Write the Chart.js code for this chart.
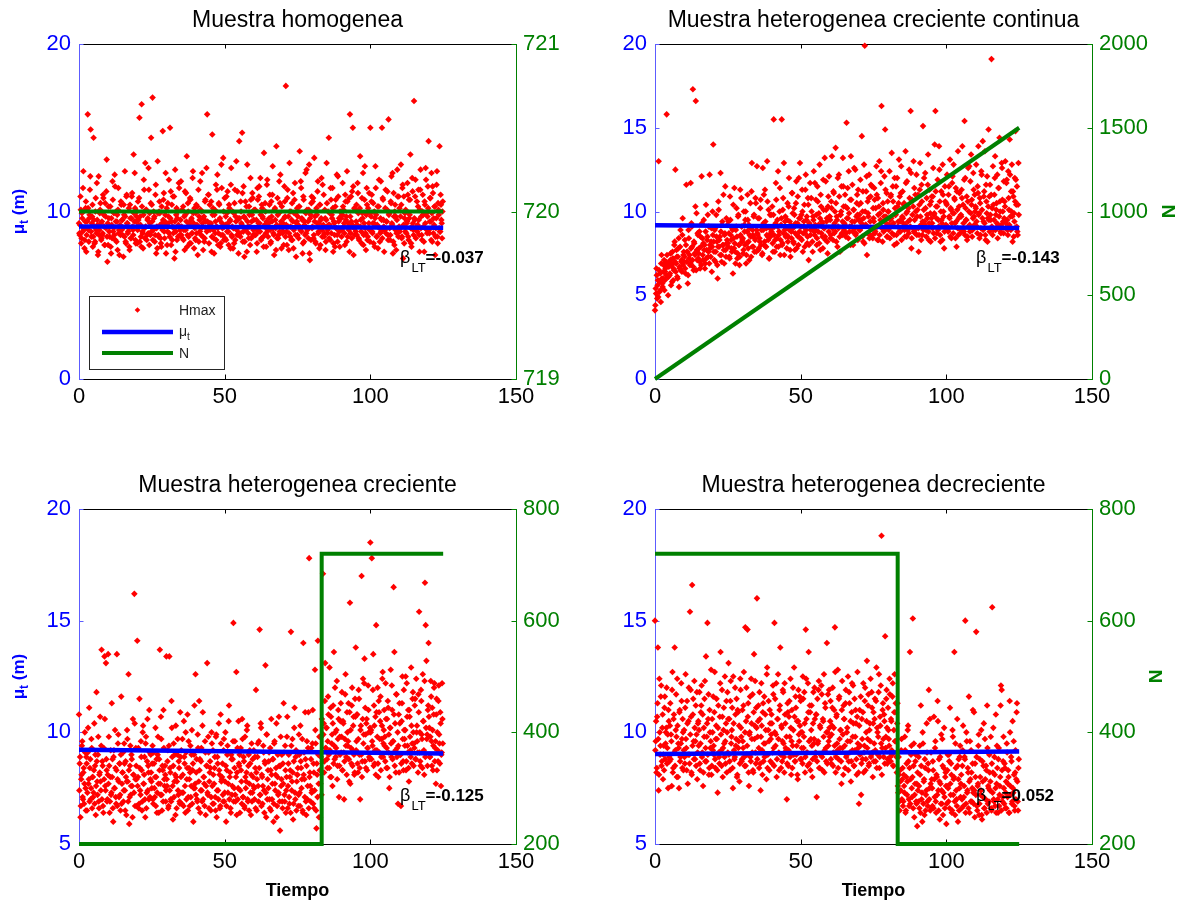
<!DOCTYPE html>
<html>
<head>
<meta charset="utf-8">
<script src="https://cdn.jsdelivr.net/npm/chart.js@4.4.1/dist/chart.umd.min.js"></script>
<style>
  html, body { margin: 0; padding: 0; background: #ffffff; }
  body { width: 1185px; height: 904px; position: relative; overflow: hidden; }
  canvas { position: absolute; left: 0; top: 0; }
</style>
</head>
<body>
<canvas id="panelHomogenea" width="1185" height="904"></canvas>
<canvas id="panelContinua" width="1185" height="904"></canvas>
<canvas id="panelCreciente" width="1185" height="904"></canvas>
<canvas id="panelDecreciente" width="1185" height="904"></canvas>
<script>
// Hmax is sampled every PASO time units from t = 0; the "intermedia" arrays
// hold the samples taken half a step later (t = DESFASE + i * PASO).
const PASO = 0.25;
const DESFASE = 0.125;

// Muestra homogenea: Hmax (m)
const hmaxHomogenea = [
  9.3, 8.6, 10.9, 8.1, 9.9, 8.8, 12.4, 9.0, 8.3, 10.2, 7.6, 9.4, 15.8, 8.9, 9.6, 11.3, 14.9, 8.5, 9.7, 7.9,
  14.4, 9.1, 8.2, 10.8, 8.7, 9.5, 7.4, 12.1, 8.9, 10.1, 9.3, 8.4, 8.6, 11.0, 9.8, 8.0, 10.5, 9.0, 13.1, 7.0,
  8.0, 9.6, 8.5, 10.3, 7.5, 9.2, 11.8, 8.8, 9.9, 12.2, 8.3, 10.0, 9.4, 7.7, 11.4, 8.9, 9.1, 8.6, 10.4, 9.5,
  8.6, 7.3, 9.8, 12.4, 8.2, 10.9, 9.3, 8.7, 9.0, 7.9, 10.4, 8.4, 9.6, 11.1, 8.9, 13.4, 9.4, 10.2, 8.1, 9.7,
  8.1, 10.6, 9.2, 15.6, 9.7, 8.5, 16.4, 8.8, 7.8, 11.9, 9.0, 12.9, 10.1, 8.3, 9.5, 8.7, 11.3, 9.9, 8.6, 14.4,
  10.4, 16.8, 8.9, 9.6, 8.2, 11.0, 7.5, 9.1, 13.0, 8.6, 10.0, 9.9, 8.4, 7.9, 9.3, 14.8, 10.7, 8.8, 9.4, 12.3,
  9.2, 8.0, 10.5, 9.7, 8.7, 15.0, 11.2, 9.4, 8.3, 10.9, 9.0, 7.2, 12.5, 8.8, 10.2, 9.6, 8.5, 11.7, 9.1, 8.9,
  11.8, 9.1, 8.4, 10.3, 8.9, 7.7, 9.8, 11.1, 13.3, 8.6, 10.0, 9.3, 8.1, 10.7, 9.5, 8.7, 12.0, 9.9, 7.8, 9.0,
  8.3, 10.4, 9.2, 7.4, 11.3, 9.7, 8.8, 10.1, 9.0, 12.3, 8.5, 9.6, 8.2, 10.6, 9.4, 12.6, 15.8, 8.9, 11.0, 9.3,
  8.9, 9.3, 7.6, 14.6, 10.2, 8.4, 9.8, 8.7, 11.6, 9.1, 12.2, 8.0, 10.5, 9.5, 7.9, 8.6, 11.4, 9.0, 13.2, 8.3,
  10.8, 9.2, 8.3, 9.9, 11.2, 8.8, 10.4, 9.4, 7.8, 12.6, 8.5, 10.0, 9.0, 8.1, 11.3, 9.7, 13.0, 8.6, 9.5, 7.5,
  14.2, 8.7, 10.6, 9.3, 14.7, 8.2, 11.5, 7.3, 9.6, 8.9, 10.3, 12.8, 9.1, 8.4, 9.8, 8.0, 10.7, 9.4, 11.1, 8.6,
  9.5, 8.6, 10.1, 9.0, 7.6, 11.4, 8.8, 10.9, 9.3, 12.0, 8.3, 10.4, 9.7, 8.5, 13.5, 9.2, 10.0, 7.9, 11.6, 8.9,
  8.9, 9.6, 11.0, 8.1, 10.6, 9.4, 12.7, 8.7, 7.4, 10.2, 9.0, 13.9, 8.4, 9.8, 8.6, 11.8, 10.5, 9.2, 7.8, 8.8,
  9.3, 8.0, 11.5, 9.7, 17.5, 8.8, 10.8, 9.1, 7.7, 12.9, 8.5, 10.0, 9.5, 8.3, 11.1, 8.9, 10.7, 9.9, 7.3, 9.4,
  8.6, 9.2, 10.3, 13.6, 8.9, 11.4, 9.6, 7.5, 10.9, 8.2, 9.4, 12.3, 8.7, 10.1, 9.0, 8.4, 12.8, 7.1, 9.8, 10.5,
  9.0, 10.6, 8.4, 13.2, 9.7, 8.1, 10.2, 9.3, 11.8, 8.8, 7.8, 10.4, 9.5, 12.0, 8.5, 9.1, 11.0, 8.7, 9.6, 8.2,
  12.9, 8.7, 10.0, 14.4, 9.2, 8.3, 10.7, 9.8, 11.4, 7.6, 9.4, 8.6, 10.3, 9.0, 12.2, 8.2, 10.9, 9.6, 7.9, 8.9,
  9.6, 8.9, 11.7, 10.1, 9.3, 8.0, 10.6, 9.7, 12.4, 8.5, 9.1, 10.8, 15.8, 8.7, 9.4, 11.2, 15.0, 7.4, 10.2, 9.0,
  8.8, 10.4, 9.2, 11.1, 8.4, 10.0, 13.3, 9.5, 8.1, 9.9, 12.3, 8.6, 10.7, 9.0, 7.7, 11.4, 8.3, 10.2, 9.3, 8.9,
  15.0, 9.7, 11.0, 8.7, 10.5, 9.3, 7.9, 12.7, 9.8, 8.5, 10.3, 9.1, 11.9, 8.2, 9.6, 8.8, 15.0, 10.8, 9.5, 7.6,
  8.9, 11.3, 9.4, 10.1, 8.6, 15.5, 9.9, 8.3, 10.6, 12.1, 9.2, 7.5, 11.1, 8.0, 10.4, 9.7, 8.7, 12.5, 9.0, 10.9,
  10.2, 9.0, 12.8, 8.4, 11.4, 7.2, 10.9, 9.6, 8.8, 10.0, 9.3, 11.7, 8.5, 10.7, 9.8, 13.4, 8.1, 9.1, 11.2, 8.9,
  16.6, 9.5, 11.9, 8.9, 10.6, 9.2, 11.3, 8.6, 10.1, 12.5, 9.7, 8.3, 11.0, 9.1, 7.6, 10.4, 12.6, 9.9, 8.7, 11.5,
  14.2, 8.7, 10.8, 9.4, 12.3, 8.2, 11.1, 9.6, 10.3, 7.4, 9.0, 11.6, 8.5, 10.5, 9.8, 13.9, 8.8, 10.4, 9.3, 10.0
];
const hmaxHomogeneaIntermedia = [
  8.7, 9.2, 10.1, 8.4, 9.6, 11.4, 8.9, 7.8, 9.4, 10.6, 8.6, 9.0, 10.2, 8.2, 9.8, 12.1, 8.8, 9.3, 10.4, 8.5,
  9.5, 8.1, 10.0, 8.9, 11.7, 9.2, 7.6, 8.6, 9.9, 10.5, 8.3, 9.4, 8.7, 10.8, 9.1, 8.0, 9.7, 11.2, 8.5, 9.3,
  10.3, 8.8, 9.1, 7.9, 9.6, 8.4, 10.7, 9.0, 8.6, 11.5, 9.4, 8.2, 9.8, 10.1, 8.7, 7.4, 9.2, 10.6, 8.9, 9.5,
  9.0, 10.4, 8.5, 9.7, 8.1, 11.0, 9.3, 8.8, 10.2, 7.7, 9.6, 8.4, 10.9, 9.1, 8.6, 9.9, 12.3, 8.3, 9.4, 10.0,
  8.9, 9.5, 10.8, 8.2, 9.2, 7.9, 10.3, 8.7, 9.8, 11.3, 8.4, 9.1, 10.1, 8.6, 9.6, 12.6, 8.0, 9.3, 10.5, 8.8,
  9.4, 8.3, 10.0, 9.7, 8.6, 11.6, 9.0, 7.8, 9.9, 8.5, 10.6, 9.2, 8.1, 10.3, 8.9, 9.5, 11.1, 8.4, 9.8, 7.5,
  10.2, 8.8, 9.3, 11.9, 8.5, 9.6, 8.0, 10.4, 9.1, 8.7, 10.9, 9.4, 7.6, 9.8, 8.3, 10.0, 9.2, 11.4, 8.6, 9.5,
  8.6, 10.1, 9.0, 8.3, 9.7, 11.2, 8.9, 9.4, 7.9, 10.5, 8.5, 9.2, 10.8, 8.1, 9.6, 8.7, 12.4, 9.3, 10.2, 8.4,
  9.9, 8.7, 10.3, 9.1, 8.2, 9.5, 11.8, 8.6, 10.0, 9.3, 7.7, 9.7, 8.4, 10.7, 9.0, 8.8, 9.4, 11.0, 8.1, 10.4,
  9.2, 10.6, 8.5, 9.8, 8.9, 7.5, 10.1, 9.4, 8.3, 11.3, 9.0, 8.7, 10.4, 9.6, 8.1, 12.8, 9.3, 8.6, 10.0, 9.1,
  8.4, 9.7, 10.9, 8.8, 9.3, 8.0, 10.2, 9.5, 11.6, 8.6, 9.1, 7.8, 9.9, 10.5, 8.3, 9.4, 8.9, 11.2, 9.6, 8.7,
  9.6, 8.5, 10.0, 9.2, 11.1, 8.8, 9.7, 8.2, 10.6, 9.0, 7.6, 9.4, 8.7, 10.3, 9.1, 12.0, 8.4, 9.8, 10.8, 8.9,
  10.1, 9.0, 8.6, 9.5, 8.1, 10.7, 9.3, 11.5, 8.8, 9.8, 8.4, 10.2, 9.6, 7.9, 9.1, 10.5, 8.7, 9.4, 11.9, 8.5,
  9.3, 10.4, 8.9, 8.2, 9.7, 11.0, 9.0, 8.6, 10.1, 9.5, 7.7, 9.2, 10.8, 8.4, 9.9, 8.8, 12.2, 9.4, 10.3, 8.7,
  8.8, 9.6, 10.6, 8.5, 9.2, 8.0, 11.3, 9.7, 8.7, 10.0, 9.1, 8.3, 10.5, 9.4, 7.8, 9.9, 11.7, 8.6, 9.3, 10.2,
  9.7, 8.4, 10.3, 9.0, 11.8, 8.8, 9.5, 8.1, 10.7, 9.2, 8.6, 9.9, 12.5, 8.9, 9.4, 10.1, 7.5, 9.6, 8.3, 10.9,
  9.1, 10.8, 8.6, 9.4, 8.2, 10.0, 9.8, 11.2, 8.7, 9.3, 10.4, 8.0, 9.6, 8.9, 11.6, 9.2, 8.5, 10.1, 7.7, 9.5,
  10.5, 8.9, 9.2, 8.4, 9.9, 11.4, 8.7, 9.6, 10.2, 8.1, 9.3, 7.9, 10.7, 9.0, 8.6, 12.1, 9.4, 8.8, 10.0, 9.7,
  8.5, 9.8, 10.3, 9.1, 8.7, 11.0, 9.5, 8.2, 10.6, 9.3, 8.9, 7.6, 9.7, 10.9, 8.4, 9.2, 11.5, 9.0, 8.6, 10.1,
  9.4, 8.6, 11.7, 9.9, 8.3, 10.2, 9.1, 8.8, 10.8, 9.6, 8.0, 9.3, 12.7, 8.7, 9.8, 10.4, 8.5, 9.0, 11.1, 8.2,
  9.9, 10.6, 8.8, 9.3, 8.1, 10.0, 9.6, 11.4, 8.5, 9.2, 7.8, 10.3, 9.0, 8.7, 11.8, 9.5, 8.4, 10.7, 9.1, 8.9,
  10.2, 8.7, 9.4, 11.2, 8.3, 9.8, 9.0, 8.6, 10.5, 9.3, 12.3, 8.2, 9.7, 10.0, 8.9, 7.7, 9.5, 10.9, 8.5, 9.1,
  8.8, 9.7, 10.4, 8.5, 11.6, 9.2, 8.1, 9.9, 10.1, 8.7, 9.4, 11.0, 8.3, 9.6, 10.7, 9.0, 7.9, 12.0, 9.3, 8.6,
  9.6, 10.9, 8.4, 9.1, 8.8, 10.3, 9.5, 7.6, 11.3, 9.0, 8.6, 10.0, 9.8, 8.2, 10.6, 9.3, 11.9, 8.9, 9.7, 10.2,
  8.9, 9.4, 10.8, 8.3, 9.9, 11.5, 8.7, 9.2, 10.3, 8.5, 9.6, 12.4, 8.1, 10.1, 9.0, 8.8, 11.0, 9.5, 8.4, 10.6
];

// Muestra heterogenea creciente continua: Hmax (m)
const hmaxContinua = [
  4.1, 5.4, 6.6, 4.8, 5.9, 13.0, 5.2, 6.3, 4.6, 7.4, 5.7, 6.0, 6.8, 5.3, 6.4, 7.0, 15.8, 6.1, 5.0, 6.7,
  6.2, 7.1, 5.6, 6.8, 7.6, 5.9, 6.5, 8.2, 12.5, 6.9, 7.3, 6.0, 7.8, 5.5, 6.6, 8.9, 7.0, 6.4, 9.6, 7.4,
  7.0, 8.3, 6.3, 11.6, 7.6, 5.7, 8.9, 7.2, 6.8, 11.7, 9.3, 7.9, 17.3, 6.5, 8.1, 7.4, 16.6, 9.9, 7.1, 8.6,
  7.5, 8.8, 6.6, 7.9, 12.1, 8.4, 7.1, 9.5, 8.0, 6.9, 10.4, 7.7, 8.5, 7.3, 9.1, 12.2, 7.8, 8.2, 6.4, 10.0,
  14.0, 7.6, 8.9, 7.0, 9.8, 8.2, 6.0, 10.6, 7.9, 8.5, 12.3, 7.4, 9.2, 8.0, 11.0, 6.9, 8.7, 7.7, 9.6, 8.3,
  8.1, 9.4, 7.3, 10.9, 8.6, 7.8, 9.0, 6.3, 8.4, 11.4, 7.6, 8.9, 10.2, 7.2, 9.7, 8.0, 6.8, 11.3, 8.5, 9.1,
  8.3, 7.5, 10.0, 8.8, 9.5, 6.9, 8.1, 11.0, 7.8, 9.2, 8.6, 10.5, 7.3, 12.9, 8.9, 7.9, 9.8, 8.4, 10.8, 7.6,
  12.7, 8.6, 7.7, 9.6, 8.2, 10.7, 8.9, 7.4, 12.6, 9.3, 8.0, 11.3, 7.9, 9.0, 13.0, 8.5, 10.1, 7.2, 9.8, 8.7,
  8.8, 10.3, 7.6, 15.5, 9.1, 8.3, 11.7, 7.9, 9.5, 12.4, 8.6, 10.0, 7.4, 9.2, 15.5, 8.1, 10.8, 12.9, 8.9, 9.7,
  9.0, 7.8, 10.5, 8.5, 12.0, 9.4, 7.3, 8.8, 11.1, 9.9, 8.2, 10.2, 7.7, 9.3, 11.8, 8.6, 10.9, 8.0, 9.6, 12.9,
  8.4, 9.8, 11.3, 7.6, 9.1, 10.4, 8.7, 12.2, 9.5, 8.1, 10.8, 7.1, 9.3, 11.7, 8.9, 10.0, 8.2, 9.7, 12.4, 8.6,
  9.2, 10.7, 8.0, 11.5, 8.8, 9.9, 12.8, 7.7, 10.3, 9.4, 8.5, 11.9, 9.0, 13.2, 8.3, 10.1, 9.6, 7.5, 10.9, 12.1,
  9.7, 8.4, 10.6, 13.3, 9.1, 11.2, 8.7, 10.0, 13.8, 8.2, 9.5, 12.0, 9.0, 10.9, 7.6, 9.8, 11.5, 8.6, 13.2, 10.3,
  9.3, 11.0, 8.5, 15.3, 10.2, 9.6, 12.4, 8.8, 10.7, 13.3, 9.1, 11.6, 8.0, 10.1, 9.4, 12.5, 8.7, 10.5, 9.8, 11.3,
  10.4, 8.9, 11.9, 9.5, 14.5, 10.0, 8.2, 12.8, 19.9, 9.2, 11.2, 7.4, 10.6, 9.7, 12.2, 8.6, 10.9, 9.0, 11.5, 8.4,
  9.6, 11.4, 8.7, 10.2, 12.7, 9.1, 10.8, 8.3, 13.0, 9.9, 11.7, 16.3, 9.4, 10.5, 8.8, 12.1, 14.9, 9.7, 11.1, 8.5,
  10.0, 8.9, 12.4, 9.5, 11.0, 13.5, 9.2, 10.6, 8.6, 12.0, 9.8, 11.5, 8.1, 10.3, 9.4, 13.1, 10.9, 8.8, 12.7, 9.6,
  11.2, 9.3, 10.5, 8.5, 13.6, 9.9, 11.8, 8.9, 10.2, 12.5, 9.5, 16.0, 7.8, 10.7, 9.0, 13.0, 11.4, 8.7, 10.0, 12.2,
  9.7, 11.0, 7.6, 10.4, 12.9, 9.2, 11.6, 8.6, 15.1, 10.1, 9.4, 12.3, 8.9, 10.8, 9.6, 13.4, 8.3, 11.3, 9.9, 10.6,
  10.9, 9.0, 12.6, 9.8, 14.0, 16.0, 10.3, 8.7, 11.9, 9.5, 13.9, 10.6, 8.2, 11.2, 9.3, 12.8, 10.0, 7.8, 11.5, 9.1,
  10.5, 12.2, 8.9, 11.0, 9.7, 13.1, 10.2, 8.4, 11.7, 9.9, 12.8, 10.8, 9.3, 11.4, 7.9, 10.1, 13.6, 9.6, 11.1, 8.7,
  9.8, 11.3, 13.9, 10.4, 8.8, 15.4, 12.0, 9.5, 10.9, 8.5, 12.6, 10.0, 9.2, 11.8, 13.4, 10.7, 8.9, 12.3, 9.7, 11.0,
  10.3, 12.8, 9.1, 11.5, 13.9, 9.9, 10.8, 8.6, 12.4, 10.1, 14.2, 9.4, 11.2, 13.6, 8.3, 10.6, 12.1, 9.6, 14.9, 10.9,
  11.6, 9.5, 19.1, 10.2, 12.7, 8.9, 11.0, 13.3, 9.8, 10.5, 12.2, 9.2, 11.4, 14.4, 10.0, 8.7, 12.9, 10.7, 9.4, 11.8,
  10.6, 13.0, 9.3, 11.9, 8.9, 12.4, 10.1, 14.3, 9.7, 11.2, 12.8, 8.2, 10.9, 9.9, 12.0, 14.8, 10.4, 11.5, 8.6, 12.9
];
const hmaxContinuaIntermedia = [
  4.4, 5.1, 6.2, 5.6, 4.9, 6.5, 5.8, 5.3, 6.9, 6.0, 5.5, 6.4, 7.1, 5.9, 6.6, 6.2, 7.4, 6.8, 6.1, 7.0,
  6.3, 7.5, 6.9, 5.8, 7.2, 6.6, 8.0, 7.0, 6.4, 7.7, 6.1, 7.3, 8.4, 6.7, 7.9, 6.5, 7.1, 8.6, 6.8, 7.6,
  7.3, 6.6, 8.0, 7.0, 7.6, 6.2, 8.4, 7.4, 6.9, 7.8, 9.1, 7.1, 6.7, 8.2, 7.5, 10.3, 6.5, 7.7, 8.7, 7.2,
  7.8, 7.0, 8.5, 6.8, 9.3, 7.4, 8.1, 7.7, 6.6, 8.8, 7.2, 8.3, 9.8, 7.6, 6.9, 8.0, 7.3, 9.0, 7.9, 8.6,
  8.2, 7.1, 9.0, 7.6, 8.5, 6.8, 7.9, 10.1, 8.3, 7.4, 8.8, 7.0, 9.4, 8.0, 7.7, 8.6, 11.5, 7.3, 8.1, 9.2,
  7.9, 8.7, 7.2, 9.5, 8.3, 7.6, 8.9, 10.4, 7.8, 8.1, 6.9, 9.1, 8.5, 7.5, 9.8, 8.0, 7.3, 8.6, 10.8, 8.2,
  8.4, 7.7, 9.2, 8.0, 10.0, 7.4, 8.8, 9.5, 8.2, 7.1, 9.0, 8.5, 11.2, 7.9, 8.6, 9.7, 7.6, 8.3, 10.5, 8.9,
  8.7, 9.6, 7.8, 8.4, 10.2, 8.0, 9.1, 7.5, 8.9, 11.0, 8.2, 9.4, 7.9, 8.6, 10.6, 8.3, 7.2, 9.0, 8.5, 9.8,
  9.0, 8.1, 9.8, 8.6, 7.6, 9.3, 10.7, 8.4, 9.1, 7.9, 8.8, 11.4, 8.3, 9.6, 8.0, 10.1, 8.7, 7.4, 9.4, 8.5,
  8.6, 9.5, 8.2, 10.3, 8.9, 7.7, 9.2, 8.4, 11.1, 9.0, 8.1, 9.8, 8.7, 10.5, 7.8, 9.3, 8.5, 12.0, 8.8, 9.6,
  9.1, 8.3, 10.0, 8.7, 9.4, 7.9, 11.3, 8.9, 9.7, 8.5, 10.4, 8.0, 9.2, 8.6, 10.8, 9.0, 7.6, 9.5, 8.8, 11.7,
  8.9, 9.8, 8.4, 10.6, 9.2, 8.1, 9.6, 11.0, 8.7, 9.3, 7.8, 10.1, 9.0, 8.5, 11.8, 9.4, 8.2, 10.3, 8.8, 9.7,
  9.5, 8.6, 10.2, 9.0, 8.3, 11.1, 9.3, 8.8, 10.5, 9.7, 7.9, 9.1, 12.2, 8.5, 9.8, 10.0, 8.7, 9.4, 11.5, 8.9,
  9.2, 10.3, 8.7, 9.6, 11.4, 8.4, 9.9, 9.1, 8.0, 10.7, 9.4, 8.8, 10.1, 12.6, 9.0, 8.6, 9.7, 11.0, 8.3, 9.5,
  9.8, 8.9, 10.5, 9.3, 8.5, 11.2, 9.6, 8.1, 10.0, 9.2, 12.1, 8.7, 9.9, 10.8, 8.4, 9.4, 11.6, 9.0, 8.6, 10.2,
  9.4, 10.7, 8.8, 9.1, 11.0, 8.3, 9.8, 10.3, 8.6, 9.5, 12.4, 9.0, 8.2, 10.1, 9.7, 8.9, 11.3, 9.3, 8.5, 10.6,
  10.0, 9.2, 8.4, 10.9, 9.6, 8.7, 11.5, 9.3, 8.0, 10.2, 9.8, 8.6, 12.0, 9.1, 10.5, 8.8, 9.4, 11.1, 8.3, 9.7,
  9.6, 10.4, 8.9, 9.2, 11.7, 8.5, 10.0, 9.4, 8.7, 10.8, 9.1, 12.3, 8.4, 9.8, 10.3, 8.8, 9.5, 11.0, 9.0, 8.6,
  10.1, 9.0, 8.6, 11.3, 9.7, 8.3, 10.6, 9.4, 8.9, 12.0, 9.2, 10.2, 8.5, 9.8, 11.6, 8.8, 9.3, 10.4, 8.2, 9.6,
  9.3, 10.9, 8.7, 9.9, 8.4, 11.2, 9.6, 10.3, 8.9, 9.1, 12.5, 8.6, 10.0, 9.5, 8.3, 11.0, 9.7, 8.8, 10.6, 9.2,
  10.4, 9.1, 8.8, 11.5, 9.6, 8.5, 10.1, 9.3, 12.1, 8.7, 9.9, 10.7, 8.4, 9.4, 11.2, 9.0, 8.6, 10.3, 9.7, 8.9,
  9.7, 10.8, 8.9, 9.3, 11.9, 8.6, 10.2, 9.5, 8.3, 10.6, 9.1, 12.7, 8.8, 9.9, 10.4, 8.5, 9.6, 11.3, 9.2, 10.0,
  10.2, 9.4, 8.7, 11.1, 9.8, 8.4, 10.5, 9.0, 12.2, 9.6, 8.9, 10.9, 9.3, 8.6, 11.6, 9.9, 8.2, 10.3, 9.5, 8.8,
  9.8, 11.0, 9.1, 8.6, 10.4, 9.5, 12.0, 8.9, 10.1, 9.3, 8.4, 11.4, 9.7, 10.6, 8.8, 9.2, 12.6, 10.0, 8.7, 9.6,
  10.3, 9.0, 11.7, 9.5, 8.6, 10.8, 9.2, 12.2, 8.9, 10.0, 9.7, 11.2, 8.5, 9.4, 10.6, 11.9, 9.1, 8.8, 10.4, 9.8
];

// Muestra heterogenea creciente: Hmax (m)
const hmaxCreciente = [
  10.8, 8.6, 6.2, 7.9, 9.4, 7.1, 8.2, 6.8, 10.0, 7.5, 8.9, 6.5, 9.1, 7.7, 11.1, 8.4, 7.0, 9.7, 6.6, 8.0,
  7.3, 10.4, 8.5, 6.3, 11.8, 7.8, 9.0, 6.9, 8.1, 10.7, 7.4, 13.7, 8.7, 6.7, 9.3, 13.4, 7.6, 13.1, 8.3, 7.0,
  13.5, 9.8, 6.4, 8.0, 7.2, 11.3, 8.8, 6.0, 9.2, 7.5, 8.4, 6.8, 13.5, 7.9, 9.9, 7.1, 8.6, 6.5, 11.6, 7.7,
  8.2, 6.9, 9.5, 7.4, 8.7, 6.3, 10.1, 7.8, 12.6, 5.9, 8.5, 7.2, 9.0, 7.6, 10.6, 8.1, 16.2, 6.7, 9.3, 7.9,
  14.1, 8.0, 6.6, 11.5, 7.4, 9.6, 8.3, 6.9, 10.3, 7.7, 8.9, 6.2, 9.8, 7.3, 10.6, 8.5, 7.0, 9.1, 7.9, 8.2,
  7.5, 9.4, 6.8, 8.6, 7.1, 10.2, 8.0, 6.4, 9.0, 7.7, 8.8, 13.7, 7.2, 9.7, 6.5, 8.3, 11.0, 7.9, 8.5, 6.9,
  13.4, 7.6, 9.2, 6.7, 13.4, 8.4, 7.0, 11.4, 8.9, 6.1, 9.5, 7.8, 8.1, 10.3, 6.6, 9.0, 7.4, 8.7, 6.9, 10.9,
  8.0, 6.8, 9.7, 7.3, 10.5, 8.6, 6.4, 9.1, 7.9, 10.8, 7.1, 8.4, 6.7, 9.4, 7.6, 10.1, 8.3, 6.0, 9.0, 7.5,
  12.6, 8.2, 7.0, 9.9, 6.6, 11.4, 8.8, 7.4, 9.3, 6.9, 10.9, 8.0, 7.7, 9.6, 6.3, 8.5, 13.1, 7.2, 9.1, 7.8,
  8.7, 6.5, 10.0, 7.6, 9.2, 6.8, 8.4, 7.1, 9.8, 6.2, 8.9, 7.4, 10.4, 8.1, 6.7, 9.5, 7.9, 8.6, 6.9, 9.7,
  7.3, 10.0, 6.0, 8.3, 9.4, 7.7, 11.2, 8.0, 6.6, 9.0, 7.2, 8.8, 14.9, 7.5, 9.6, 6.9, 12.7, 8.2, 7.0, 10.5,
  8.5, 6.4, 9.3, 7.8, 10.6, 7.1, 8.9, 6.7, 9.8, 7.5, 8.2, 10.3, 6.9, 9.0, 7.7, 8.6, 6.3, 9.5, 7.3, 8.0,
  9.2, 7.0, 8.4, 11.9, 6.5, 8.9, 7.6, 9.6, 14.6, 7.2, 10.2, 8.1, 6.8, 9.4, 7.4, 8.7, 13.0, 6.2, 9.9, 7.9,
  7.5, 9.1, 6.6, 8.3, 10.6, 7.0, 8.8, 6.0, 9.5, 7.7, 8.1, 10.4, 6.7, 9.0, 7.3, 8.5, 5.6, 9.8, 7.9, 6.9,
  8.6, 11.3, 7.2, 9.4, 6.4, 8.0, 10.7, 7.6, 9.0, 6.8, 8.3, 14.5, 7.4, 9.7, 6.1, 8.7, 11.1, 7.0, 9.2, 7.8,
  8.1, 6.7, 9.9, 7.3, 10.3, 8.4, 7.9, 6.5, 14.0, 9.1, 7.1, 8.8, 6.3, 9.6, 7.6, 10.9, 17.8, 8.2, 6.9, 9.3,
  7.4, 11.0, 8.6, 6.6, 12.8, 9.5, 5.7, 8.1, 14.1, 7.7, 9.8, 6.2, 8.9, 7.2, 9.9, 17.1, 10.4, 8.7, 13.1, 9.3,
  10.2, 8.4, 11.6, 9.0, 12.9, 8.0, 10.7, 9.5, 7.6, 11.2, 13.6, 8.8, 10.0, 9.3, 12.3, 8.5, 11.0, 7.1, 9.8, 10.5,
  9.1, 11.8, 8.3, 10.4, 7.0, 9.7, 12.6, 8.9, 10.9, 9.4, 11.3, 7.8, 15.8, 10.1, 8.6, 12.0, 9.2, 10.7, 8.1, 11.5,
  13.8, 9.6, 10.8, 8.2, 11.9, 9.0, 7.0, 10.3, 17.0, 8.7, 12.4, 9.9, 13.3, 11.1, 8.4, 10.6, 9.3, 12.1, 10.0, 8.8,
  18.5, 10.1, 17.8, 9.4, 13.5, 11.2, 8.6, 10.7, 14.8, 9.2, 12.0, 8.0, 10.9, 9.7, 11.6, 8.9, 10.3, 12.7, 9.5, 11.0,
  9.8, 12.2, 8.4, 10.6, 11.4, 9.1, 7.5, 10.2, 12.8, 8.9, 11.0, 9.6, 16.5, 13.6, 10.4, 8.2, 11.7, 9.3, 6.8, 10.8,
  11.3, 9.0, 6.7, 10.5, 12.5, 8.7, 11.9, 9.7, 10.1, 8.3, 12.2, 9.4, 11.0, 7.8, 10.7, 9.2, 12.9, 8.6, 11.5, 10.0,
  9.5, 11.2, 8.8, 12.4, 10.3, 9.1, 11.7, 15.4, 10.0, 8.5, 11.4, 9.7, 12.6, 10.5, 8.1, 16.7, 14.8, 13.2, 9.9, 11.0,
  14.0, 10.2, 8.9, 12.3, 9.6, 11.1, 8.3, 10.8, 12.2, 9.3, 7.7, 11.5, 10.0, 8.7, 12.1, 9.5, 10.9, 7.6, 9.1, 10.6
];
const hmaxCrecienteIntermedia = [
  7.4, 8.9, 6.7, 8.1, 9.6, 7.0, 8.4, 7.7, 9.1, 6.5, 8.6, 7.3, 10.2, 7.9, 6.9, 8.8, 7.5, 9.3, 8.0, 7.1,
  8.3, 6.8, 9.0, 7.6, 8.7, 7.2, 9.8, 6.6, 8.2, 7.8, 9.4, 7.0, 8.5, 6.4, 7.9, 10.6, 7.4, 8.8, 6.9, 8.1,
  7.7, 8.5, 6.9, 9.2, 7.3, 8.0, 6.6, 8.9, 7.5, 10.1, 7.1, 8.3, 6.7, 9.5, 7.8, 8.6, 7.2, 9.0, 6.8, 8.2,
  9.1, 7.4, 8.6, 6.5, 8.0, 7.8, 9.7, 6.9, 8.3, 7.1, 9.4, 7.6, 8.8, 6.2, 8.1, 7.3, 10.4, 7.9, 8.5, 6.7,
  7.6, 9.3, 6.8, 8.4, 7.2, 8.9, 6.5, 10.0, 7.7, 8.1, 7.0, 9.5, 6.6, 8.7, 7.4, 8.2, 11.0, 7.1, 9.0, 7.8,
  8.6, 7.0, 9.1, 7.5, 8.0, 6.7, 8.8, 7.3, 9.8, 6.4, 8.3, 7.7, 10.7, 7.2, 8.5, 6.9, 9.3, 7.6, 8.1, 7.4,
  7.9, 8.7, 6.6, 9.4, 7.4, 8.2, 6.9, 10.2, 7.6, 8.5, 7.1, 9.0, 6.3, 8.0, 7.8, 9.7, 7.2, 8.4, 6.8, 8.9,
  9.2, 7.3, 8.1, 6.7, 8.9, 7.6, 10.0, 7.0, 8.4, 6.5, 9.6, 7.9, 8.2, 7.1, 9.0, 6.8, 8.6, 7.5, 11.2, 7.7,
  7.2, 8.8, 6.9, 9.3, 7.8, 8.3, 6.4, 8.7, 7.4, 10.3, 7.0, 8.0, 6.7, 9.1, 7.6, 8.5, 7.3, 9.8, 6.6, 8.2,
  8.4, 7.1, 9.5, 6.8, 8.1, 7.7, 8.9, 6.5, 9.9, 7.4, 8.6, 7.0, 8.3, 6.6, 10.8, 7.8, 8.0, 7.2, 9.2, 6.9,
  7.8, 8.5, 6.7, 9.0, 7.3, 10.5, 7.0, 8.2, 6.4, 8.8, 7.6, 9.6, 6.9, 8.4, 7.2, 8.0, 6.3, 9.3, 7.5, 8.6,
  9.0, 7.4, 8.3, 6.8, 9.7, 7.1, 8.7, 6.6, 8.0, 7.8, 10.1, 7.0, 8.5, 6.5, 9.2, 7.3, 8.1, 6.9, 8.8, 7.6,
  7.5, 8.9, 6.6, 8.2, 7.9, 9.5, 6.9, 8.4, 7.2, 10.4, 6.7, 8.0, 7.6, 9.1, 6.4, 8.6, 7.3, 9.9, 7.0, 8.3,
  8.7, 7.0, 9.3, 6.5, 8.1, 7.7, 8.8, 6.8, 9.6, 7.4, 8.4, 6.2, 8.0, 7.2, 10.7, 6.9, 8.5, 7.6, 9.0, 6.6,
  7.7, 9.1, 6.9, 8.3, 7.4, 9.8, 6.6, 8.6, 7.1, 8.0, 6.4, 9.4, 7.8, 8.2, 6.8, 10.2, 7.3, 8.9, 6.5, 8.1,
  8.4, 7.2, 9.0, 6.7, 8.7, 7.5, 9.7, 6.4, 8.1, 7.9, 10.9, 6.9, 8.5, 7.0, 9.3, 6.6, 8.0, 7.6, 8.8, 7.3,
  9.5, 6.8, 8.2, 7.4, 10.1, 6.5, 8.6, 7.1, 9.0, 6.2, 8.3, 7.7, 9.8, 10.6, 8.7, 9.9, 8.2, 11.4, 9.3, 10.2,
  8.8, 9.6, 10.8, 8.4, 9.2, 11.1, 8.0, 9.9, 10.4, 8.6, 9.4, 12.0, 8.9, 10.1, 7.9, 9.7, 10.6, 8.5, 9.0, 11.3,
  9.8, 8.3, 10.5, 9.1, 8.7, 11.7, 9.4, 8.1, 10.0, 9.6, 8.8, 10.9, 7.7, 9.3, 11.2, 8.5, 10.3, 9.0, 8.2, 10.7,
  9.2, 10.8, 8.6, 9.7, 11.5, 8.4, 10.1, 9.0, 8.0, 10.6, 9.5, 12.2, 8.7, 9.9, 10.4, 8.3, 9.3, 11.0, 8.9, 10.2,
  10.0, 8.8, 9.6, 11.9, 8.5, 10.3, 9.2, 8.1, 10.9, 9.8, 8.6, 11.4, 9.1, 10.5, 8.3, 9.7, 12.4, 8.9, 10.1, 9.4,
  8.7, 10.6, 9.3, 8.4, 11.1, 9.9, 8.0, 10.2, 9.5, 12.1, 8.8, 9.6, 10.8, 8.5, 9.2, 11.7, 8.9, 10.0, 9.4, 8.2,
  10.4, 9.0, 8.6, 11.3, 9.7, 8.3, 10.1, 9.4, 12.5, 8.7, 10.7, 9.1, 8.4, 11.0, 9.8, 8.9, 10.3, 9.5, 11.8, 8.5,
  9.3, 11.5, 8.8, 10.0, 9.6, 8.2, 10.9, 9.1, 8.7, 11.9, 9.9, 8.4, 10.5, 9.2, 12.3, 8.9, 10.2, 9.7, 8.5, 11.2,
  10.7, 8.9, 9.8, 11.6, 8.5, 10.1, 9.4, 12.0, 8.7, 9.6, 10.8, 8.3, 9.2, 11.4, 9.9, 8.6, 10.4, 9.0, 12.2, 9.5
];

// Muestra heterogenea decreciente: Hmax (m)
const hmaxDecreciente = [
  15.0, 9.6, 8.2, 10.7, 13.8, 7.4, 12.4, 9.0, 11.6, 8.5, 10.2, 7.9, 9.4, 11.1, 8.8, 10.0, 12.0, 9.3, 7.5, 10.5,
  8.7, 11.3, 9.9, 7.6, 12.7, 8.4, 10.8, 13.8, 9.2, 11.7, 8.0, 10.3, 9.5, 7.5, 11.0, 8.9, 12.2, 9.7, 10.6, 8.3,
  10.1, 8.6, 12.6, 9.3, 11.4, 7.7, 10.5, 9.0, 15.4, 11.9, 8.2, 16.6, 10.8, 9.6, 12.3, 8.8, 11.2, 9.9, 7.9, 10.4,
  9.4, 11.8, 8.3, 10.9, 12.1, 9.1, 7.6, 10.2, 11.5, 8.7, 13.4, 9.8, 14.9, 10.6, 8.1, 11.0, 9.3, 12.8, 8.5, 10.0,
  11.6, 9.0, 12.7, 8.4, 10.3, 9.7, 7.3, 11.2, 8.9, 10.7, 13.6, 9.2, 11.9, 8.0, 10.1, 9.5, 12.5, 8.6, 11.4, 10.0,
  9.1, 13.1, 10.6, 8.3, 12.3, 9.8, 11.1, 7.5, 10.4, 8.8, 12.0, 9.4, 11.5, 8.1, 10.9, 9.6, 7.8, 12.4, 10.2, 8.7,
  11.0, 9.3, 12.7, 8.5, 14.7, 10.5, 9.0, 14.6, 11.3, 7.6, 10.0, 8.9, 12.4, 9.7, 11.7, 8.2, 13.5, 10.3, 9.1, 11.1,
  16.0, 9.8, 11.2, 8.4, 10.6, 7.4, 12.2, 9.2, 10.9, 8.7, 11.6, 9.5, 10.1, 7.9, 12.9, 9.0, 11.4, 8.3, 10.4, 9.7,
  10.8, 8.6, 12.1, 9.3, 14.9, 11.5, 9.9, 8.0, 10.6, 12.6, 9.1, 11.0, 13.8, 8.4, 10.2, 9.6, 11.8, 8.9, 12.2, 10.4,
  9.2, 7.0, 11.3, 8.5, 10.7, 9.8, 12.4, 8.1, 11.0, 9.4, 10.1, 12.9, 8.7, 11.6, 9.0, 10.5, 7.9, 11.9, 9.6, 10.3,
  11.4, 8.8, 10.0, 12.5, 9.3, 11.8, 8.2, 14.6, 10.6, 9.1, 12.2, 13.6, 8.6, 10.9, 9.7, 11.2, 8.0, 10.4, 9.5, 12.0,
  8.9, 10.8, 7.1, 11.5, 9.6, 12.3, 8.4, 10.2, 9.0, 11.7, 8.3, 10.5, 12.6, 9.2, 11.1, 8.7, 14.0, 10.0, 9.4, 11.9,
  9.8, 11.4, 8.6, 10.3, 12.0, 9.1, 11.0, 14.7, 8.2, 10.7, 9.5, 12.8, 8.8, 11.6, 9.3, 10.1, 7.7, 12.3, 9.9, 11.2,
  10.6, 8.4, 11.9, 9.0, 10.2, 12.5, 8.7, 11.3, 9.6, 7.8, 10.9, 9.2, 12.1, 8.5, 11.5, 9.8, 10.4, 8.1, 12.7, 9.3,
  6.8, 11.0, 9.4, 7.2, 10.6, 8.8, 12.2, 9.1, 11.4, 8.3, 10.0, 13.2, 9.7, 11.7, 8.6, 10.4, 12.4, 9.0, 11.1, 8.0,
  10.9, 9.5, 11.5, 8.7, 12.9, 10.2, 9.0, 11.8, 8.4, 10.7, 12.1, 18.8, 9.3, 11.3, 8.9, 10.5, 14.3, 9.8, 11.9, 8.6,
  11.1, 9.7, 12.4, 8.9, 10.6, 9.2, 11.6, 8.5, 10.1, 12.6, 9.6, 10.9, 8.2, 11.3, 7.3, 8.1, 6.5, 7.8, 9.2, 7.0,
  8.4, 6.9, 7.6, 9.8, 6.4, 8.0, 7.2, 10.1, 8.7, 6.7, 13.6, 7.9, 9.4, 7.1, 15.1, 8.5, 6.2, 7.7, 9.0, 6.8,
  5.8, 7.4, 8.9, 6.6, 8.1, 11.2, 7.0, 6.0, 9.5, 7.8, 6.3, 8.4, 7.2, 10.4, 6.9, 8.6, 11.9, 7.5, 6.5, 9.1,
  7.9, 6.7, 8.3, 10.7, 7.1, 9.6, 6.4, 8.0, 11.4, 7.4, 8.8, 6.1, 7.7, 9.9, 6.8, 8.5, 7.3, 10.2, 6.6, 8.2,
  5.9, 7.6, 9.0, 6.9, 8.7, 11.1, 7.2, 8.1, 6.5, 9.8, 7.9, 13.6, 6.3, 8.4, 7.0, 10.6, 6.0, 8.8, 7.5, 9.4,
  7.7, 6.6, 8.5, 10.3, 7.1, 8.9, 15.0, 6.8, 9.6, 7.4, 8.2, 11.6, 6.4, 7.9, 9.2, 6.9, 8.6, 7.3, 10.9, 6.2,
  8.0, 14.5, 6.7, 7.6, 9.4, 6.3, 8.8, 7.2, 10.1, 6.1, 7.8, 8.5, 6.6, 9.7, 7.0, 8.3, 11.2, 6.8, 7.5, 9.0,
  7.4, 9.8, 6.5, 15.6, 8.2, 7.0, 8.9, 6.7, 10.8, 7.7, 8.4, 6.4, 9.3, 7.2, 8.0, 12.1, 11.9, 6.9, 8.7, 7.5,
  8.6, 6.6, 7.8, 9.5, 7.1, 8.3, 6.4, 11.4, 7.6, 8.9, 6.8, 10.5, 7.3, 8.1, 6.5, 9.2, 7.9, 11.3, 6.9, 8.4
];
const hmaxDecrecienteIntermedia = [
  9.2, 10.5, 8.4, 11.3, 9.7, 8.1, 10.0, 9.4, 12.1, 8.7, 10.8, 9.0, 8.3, 11.6, 9.5, 10.2, 8.6, 9.9, 11.0, 8.9,
  10.3, 8.8, 9.6, 11.9, 8.2, 10.6, 9.1, 8.5, 10.1, 9.8, 12.4, 8.0, 9.3, 10.9, 8.7, 9.5, 11.4, 8.4, 10.0, 9.2,
  8.9, 11.1, 9.7, 8.3, 10.4, 9.0, 12.0, 8.6, 9.9, 10.7, 8.1, 9.4, 11.5, 8.8, 10.2, 9.6, 8.5, 11.8, 9.1, 10.5,
  10.1, 8.6, 9.5, 11.2, 8.9, 10.8, 8.2, 9.8, 12.3, 9.3, 8.7, 10.4, 9.0, 11.7, 8.4, 10.0, 9.6, 8.1, 10.6, 9.2,
  9.4, 10.9, 8.8, 9.7, 11.5, 8.3, 10.2, 9.1, 8.6, 12.2, 9.9, 8.5, 10.7, 9.3, 11.1, 8.9, 9.6, 10.4, 8.2, 11.8,
  10.6, 9.0, 8.7, 11.4, 9.5, 10.1, 8.4, 12.5, 9.2, 8.9, 10.8, 9.7, 8.0, 11.0, 9.3, 10.3, 8.6, 11.9, 9.8, 8.8,
  9.6, 11.2, 8.9, 10.0, 8.5, 12.0, 9.4, 10.7, 8.2, 9.9, 11.6, 8.7, 10.4, 9.1, 8.3, 10.9, 9.7, 12.3, 8.6, 10.2,
  8.8, 10.5, 9.3, 11.8, 8.6, 9.8, 10.3, 8.1, 11.3, 9.5, 8.9, 10.8, 9.0, 12.6, 8.4, 10.1, 9.6, 11.0, 8.7, 9.9,
  10.4, 9.1, 11.7, 8.5, 10.0, 9.4, 12.2, 8.8, 10.6, 9.7, 8.3, 11.2, 9.0, 10.3, 8.7, 11.9, 9.5, 8.2, 10.8, 9.3,
  9.8, 8.6, 10.9, 9.2, 11.4, 8.9, 10.2, 9.6, 8.4, 12.0, 9.0, 10.7, 8.7, 11.1, 9.4, 8.1, 10.5, 9.9, 11.6, 8.8,
  10.0, 9.3, 8.6, 11.5, 9.8, 10.4, 8.9, 12.4, 9.1, 8.5, 10.9, 9.6, 11.2, 8.3, 10.1, 9.4, 8.8, 11.8, 9.7, 10.6,
  9.1, 10.8, 8.7, 9.5, 11.9, 8.4, 10.3, 9.0, 12.1, 8.9, 10.6, 9.8, 8.2, 11.3, 9.3, 10.0, 8.6, 11.7, 9.6, 10.2,
  10.5, 8.8, 9.9, 11.1, 8.5, 10.2, 9.4, 12.7, 8.9, 10.8, 9.2, 8.4, 11.5, 9.7, 10.1, 8.7, 11.0, 9.3, 8.1, 10.6,
  9.4, 11.3, 8.9, 10.0, 9.6, 8.3, 11.8, 9.1, 10.5, 8.7, 12.2, 9.8, 10.4, 8.5, 9.2, 11.0, 8.8, 10.7, 9.5, 8.2,
  10.3, 9.0, 11.6, 8.6, 9.7, 10.9, 8.2, 9.4, 12.0, 8.8, 10.5, 9.3, 11.2, 8.5, 10.1, 9.6, 8.9, 11.8, 9.1, 10.4,
  8.7, 10.6, 9.2, 11.4, 8.4, 10.0, 9.8, 12.6, 8.9, 10.3, 9.5, 8.1, 11.0, 9.7, 10.8, 8.6, 9.3, 11.5, 10.2, 8.8,
  10.1, 9.4, 11.7, 8.7, 10.5, 9.0, 12.2, 8.5, 10.9, 9.6, 11.3, 8.9, 10.4, 7.6, 8.9, 6.9, 8.3, 7.4, 9.7, 7.9,
  6.7, 8.1, 7.3, 9.2, 6.5, 8.6, 7.8, 10.3, 7.0, 8.4, 6.8, 9.0, 7.5, 8.0, 6.6, 9.5, 7.2, 8.7, 6.9, 7.7,
  8.2, 6.9, 7.6, 9.4, 6.4, 8.5, 7.3, 10.0, 6.8, 7.9, 8.8, 6.5, 7.4, 9.1, 6.7, 8.3, 7.0, 10.6, 7.7, 6.6,
  7.5, 8.7, 6.6, 7.9, 9.3, 6.9, 8.1, 7.2, 10.5, 6.5, 7.8, 8.9, 6.8, 7.4, 9.7, 6.3, 8.4, 7.1, 8.0, 7.6,
  6.8, 8.3, 7.5, 9.0, 6.6, 7.7, 8.6, 6.4, 10.1, 7.2, 8.0, 6.9, 9.5, 7.4, 6.7, 8.5, 7.9, 6.5, 8.9, 7.1,
  8.1, 7.0, 9.2, 6.7, 7.6, 8.8, 6.4, 10.0, 7.3, 8.4, 6.6, 7.8, 9.6, 6.9, 8.2, 7.5, 11.0, 6.8, 7.4, 8.6,
  7.2, 8.9, 6.5, 7.7, 9.9, 6.8, 8.0, 7.4, 6.3, 8.7, 7.1, 10.4, 6.6, 7.9, 8.5, 6.4, 9.3, 7.6, 6.9, 8.2,
  7.8, 6.6, 8.6, 7.3, 10.2, 6.9, 8.1, 7.5, 6.4, 9.4, 7.0, 8.8, 6.7, 7.6, 11.2, 6.5, 8.3, 7.1, 9.8, 6.8,
  8.4, 7.3, 6.6, 9.1, 7.7, 8.0, 6.4, 10.0, 7.2, 8.7, 6.9, 7.5, 9.6, 6.7, 8.2, 7.0, 10.9, 7.8, 6.5, 8.8
];

// Fitted location parameter mu_t (m): start and end of each trend line
const muTiempo = [0, 125];
const muHomogenea = [9.10, 9.03];
const muContinua = [9.18, 9.02];
const muCreciente = [9.22, 9.05];
const muDecreciente = [9.03, 9.14];

// Number of events N over time
const nTiempoHomogenea = [0, 125];
const nHomogenea = [720, 720];
const nTiempoContinua = [0, 125];
const nContinua = [0, 1500];
const nTiempoCreciente = [0, 83.3, 83.3, 125];
const nCreciente = [200, 200, 720, 720];
const nTiempoDecreciente = [0, 83.3, 83.3, 125];
const nDecreciente = [720, 720, 200, 200];

// Long-term trend coefficient shown in each panel
const betaLT = [-0.037, -0.143, -0.125, 0.052];

const FUENTE = "'Liberation Sans', Arial, Helvetica, sans-serif";
const ANCHO = 1185, ALTO = 904;
const AZUL = '#0000ff', VERDE = '#008000', ROJO = '#ff0000';

function puntos(ts, vs) {
  return ts.map((t, i) => ({ x: t, y: vs[i] }));
}

function muestras(principal, intermedia) {
  return principal.map((v, i) => ({ x: i * PASO, y: v }))
    .concat(intermedia.map((v, i) => ({ x: DESFASE + i * PASO, y: v })));
}

// Frame, inward ticks, titles, axis labels, annotation and legend
const decoracion = {
  id: 'decoracion',
  beforeDatasetsDraw(chart) {
    const { ctx, chartArea: a, scales } = chart;
    ctx.save();
    ctx.lineWidth = 1;
    ctx.strokeStyle = '#000';
    ctx.beginPath();
    ctx.moveTo(a.left, a.top + 0.5); ctx.lineTo(a.right, a.top + 0.5);
    ctx.moveTo(a.left, a.bottom + 0.5); ctx.lineTo(a.right, a.bottom + 0.5);
    ctx.stroke();
    const TL = 4.5;
    ctx.beginPath();
    scales.x.ticks.forEach(t => {
      const px = Math.round(scales.x.getPixelForValue(t.value)) + 0.5;
      ctx.moveTo(px, a.bottom); ctx.lineTo(px, a.bottom - TL);
      ctx.moveTo(px, a.top); ctx.lineTo(px, a.top + TL);
    });
    ctx.stroke();
    ctx.strokeStyle = '#5c5cff';
    ctx.beginPath();
    ctx.moveTo(a.left + 0.5, a.top); ctx.lineTo(a.left + 0.5, a.bottom + 1);
    scales.y.ticks.forEach(t => {
      const py = Math.round(scales.y.getPixelForValue(t.value)) + 0.5;
      ctx.moveTo(a.left, py); ctx.lineTo(a.left + TL, py);
    });
    ctx.stroke();
    ctx.strokeStyle = VERDE;
    ctx.beginPath();
    ctx.moveTo(a.right + 0.5, a.top); ctx.lineTo(a.right + 0.5, a.bottom + 1);
    scales.y2.ticks.forEach(t => {
      const py = Math.round(scales.y2.getPixelForValue(t.value)) + 0.5;
      ctx.moveTo(a.right, py); ctx.lineTo(a.right - TL, py);
    });
    ctx.stroke();
    ctx.restore();
  },
  afterDraw(chart, args, o) {
    const { ctx, chartArea: a, scales } = chart;
    ctx.save();
    ctx.fillStyle = '#000';
    ctx.font = `23px ${FUENTE}`;
    ctx.textAlign = 'center';
    ctx.textBaseline = 'alphabetic';
    ctx.fillText(o.titulo, (a.left + a.right) / 2, a.top - 17.5);

    if (o.etiquetaMu) {
      ctx.save();
      ctx.translate(19, (a.top + a.bottom) / 2);
      ctx.rotate(-Math.PI / 2);
      ctx.fillStyle = AZUL;
      ctx.textAlign = 'left';
      ctx.font = `bold 17px ${FUENTE}`;
      const w1 = ctx.measureText('\u03bc').width;
      ctx.font = `bold 12px ${FUENTE}`;
      const w2 = ctx.measureText('t').width;
      ctx.font = `bold 17px ${FUENTE}`;
      const w3 = ctx.measureText(' (m)').width;
      const x0 = -(w1 + w2 + w3) / 2;
      ctx.fillText('\u03bc', x0, 5);
      ctx.font = `bold 12px ${FUENTE}`;
      ctx.fillText('t', x0 + w1, 9);
      ctx.font = `bold 17px ${FUENTE}`;
      ctx.fillText(' (m)', x0 + w1 + w2, 5);
      ctx.restore();
    }
    if (o.etiquetaN) {
      ctx.save();
      ctx.translate(o.etiquetaN, (a.top + a.bottom) / 2);
      ctx.rotate(-Math.PI / 2);
      ctx.fillStyle = VERDE;
      ctx.font = `bold 19px ${FUENTE}`;
      ctx.textAlign = 'center';
      ctx.textBaseline = 'middle';
      ctx.fillText('N', 0, 0);
      ctx.restore();
    }
    if (o.etiquetaTiempo) {
      ctx.fillStyle = '#000';
      ctx.font = `bold 18px ${FUENTE}`;
      ctx.textAlign = 'center';
      ctx.textBaseline = 'middle';
      ctx.fillText('Tiempo', (a.left + a.right) / 2, 891);
    }
    {
      const px = scales.x.getPixelForValue(o.betaPos[0]);
      const py = scales.y.getPixelForValue(o.betaPos[1]);
      ctx.textAlign = 'left';
      ctx.textBaseline = 'alphabetic';
      ctx.fillStyle = '#000';
      ctx.font = `18px ${FUENTE}`;
      ctx.fillText('\u03b2', px, py + 6);
      const wb = ctx.measureText('\u03b2').width;
      ctx.font = `13px ${FUENTE}`;
      ctx.fillText('LT', px + wb + 1, py + 15);
      const wl = ctx.measureText('LT').width;
      ctx.font = `bold 17px ${FUENTE}`;
      ctx.fillText('=' + o.beta.toFixed(3), px + wb + 1 + wl, py + 6);
    }
    if (o.leyenda) {
      const L = a.left + 10.5, T = a.top + 252.5, W = 135, H = 73;
      ctx.fillStyle = '#fff';
      ctx.fillRect(L, T, W, H);
      ctx.strokeStyle = '#262626';
      ctx.lineWidth = 1;
      ctx.strokeRect(L, T, W, H);
      const xs0 = L + 12.5, xs1 = L + 83.5, xt = L + 89.5;
      ctx.fillStyle = ROJO;
      const cx = (xs0 + xs1) / 2, cy = T + 13.5;
      ctx.beginPath();
      ctx.moveTo(cx, cy - 2.8); ctx.lineTo(cx + 2.8, cy); ctx.lineTo(cx, cy + 2.8); ctx.lineTo(cx - 2.8, cy);
      ctx.closePath(); ctx.fill();
      ctx.lineWidth = 4.5;
      ctx.strokeStyle = AZUL;
      ctx.beginPath(); ctx.moveTo(xs0, T + 35.5); ctx.lineTo(xs1, T + 35.5); ctx.stroke();
      ctx.lineWidth = 4;
      ctx.strokeStyle = VERDE;
      ctx.beginPath(); ctx.moveTo(xs0, T + 56.5); ctx.lineTo(xs1, T + 56.5); ctx.stroke();
      ctx.fillStyle = '#222';
      ctx.font = `14px ${FUENTE}`;
      ctx.textBaseline = 'alphabetic';
      ctx.fillText('Hmax', xt, T + 18.5);
      ctx.fillText('\u03bc', xt, T + 39);
      const wm = ctx.measureText('\u03bc').width;
      ctx.font = `10px ${FUENTE}`;
      ctx.fillText('t', xt + wm, T + 43);
      ctx.font = `14px ${FUENTE}`;
      ctx.fillText('N', xt, T + 61.5);
    }
    ctx.restore();
  }
};

function crearPanel(p) {
  const tickFont = { family: FUENTE, size: 22 };
  return new Chart(document.getElementById(p.id), {
    type: 'scatter',
    data: {
      datasets: [
        {
          label: 'Hmax',
          data: muestras(p.hmax, p.hmaxIntermedia),
          yAxisID: 'y',
          pointStyle: 'rectRot',
          pointRadius: 3.3,
          pointBackgroundColor: ROJO,
          pointBorderWidth: 0,
          showLine: false,
          clip: false,
          order: 3
        },
        {
          label: '\u03bct',
          type: 'line',
          data: puntos(muTiempo, p.mu),
          yAxisID: 'y',
          borderColor: AZUL,
          borderWidth: 4.5,
          pointRadius: 0,
          tension: 0,
          fill: false,
          clip: false,
          order: 2
        },
        {
          label: 'N',
          type: 'line',
          data: puntos(p.nTiempo, p.n),
          yAxisID: 'y2',
          borderColor: VERDE,
          borderWidth: 4,
          borderJoinStyle: 'miter',
          borderCapStyle: 'butt',
          pointRadius: 0,
          tension: 0,
          fill: false,
          clip: false,
          order: 1
        }
      ]
    },
    options: {
      responsive: false,
      animation: false,
      devicePixelRatio: 1,
      events: [],
      layout: { padding: { left: 0, right: 0, top: p.area.top, bottom: 0 } },
      plugins: {
        legend: { display: false },
        tooltip: { enabled: false },
        title: { display: false },
        decoracion: p.deco
      },
      scales: {
        x: {
          type: 'linear',
          position: 'bottom',
          min: 0, max: 150,
          ticks: { stepSize: 50, color: '#000', font: tickFont, padding: 5, maxRotation: 0, callback: v => String(v) },
          grid: { display: false, drawTicks: false },
          border: { display: false },
          afterFit(s) { s.height = ALTO - p.area.bottom; }
        },
        y: {
          type: 'linear',
          position: 'left',
          min: p.yRango[0], max: p.yRango[1],
          ticks: { stepSize: p.yRango[2], color: AZUL, font: tickFont, padding: 8, callback: v => String(v) },
          grid: { display: false, drawTicks: false },
          border: { display: false },
          afterFit(s) { s.width = p.area.left; }
        },
        y2: {
          type: 'linear',
          position: 'right',
          min: p.y2Rango[0], max: p.y2Rango[1],
          ticks: { stepSize: p.y2Rango[2], color: VERDE, font: tickFont, padding: 7, callback: v => String(v) },
          grid: { display: false, drawTicks: false },
          border: { display: false },
          afterFit(s) { s.width = ANCHO - p.area.right; }
        }
      }
    },
    plugins: [decoracion]
  });
}

const paneles = [
  {
    id: 'panelHomogenea', area: { left: 79, right: 516, top: 44, bottom: 379 },
    hmax: hmaxHomogenea, hmaxIntermedia: hmaxHomogeneaIntermedia,
    mu: muHomogenea, nTiempo: nTiempoHomogenea, n: nHomogenea,
    yRango: [0, 20, 10], y2Rango: [719, 721, 1],
    deco: { titulo: 'Muestra homogenea', etiquetaMu: true, etiquetaN: 0, etiquetaTiempo: false,
            beta: betaLT[0], betaPos: [110.2, 7.3], leyenda: true }
  },
  {
    id: 'panelContinua', area: { left: 655, right: 1092, top: 44, bottom: 379 },
    hmax: hmaxContinua, hmaxIntermedia: hmaxContinuaIntermedia,
    mu: muContinua, nTiempo: nTiempoContinua, n: nContinua,
    yRango: [0, 20, 5], y2Rango: [0, 2000, 500],
    deco: { titulo: 'Muestra heterogenea creciente continua', etiquetaMu: false, etiquetaN: 1170, etiquetaTiempo: false,
            beta: betaLT[1], betaPos: [110.2, 7.3], leyenda: false }
  },
  {
    id: 'panelCreciente', area: { left: 79, right: 516, top: 509, bottom: 844 },
    hmax: hmaxCreciente, hmaxIntermedia: hmaxCrecienteIntermedia,
    mu: muCreciente, nTiempo: nTiempoCreciente, n: nCreciente,
    yRango: [5, 20, 5], y2Rango: [200, 800, 200],
    deco: { titulo: 'Muestra heterogenea creciente', etiquetaMu: true, etiquetaN: 0, etiquetaTiempo: true,
            beta: betaLT[2], betaPos: [110.2, 7.2], leyenda: false }
  },
  {
    id: 'panelDecreciente', area: { left: 655, right: 1092, top: 509, bottom: 844 },
    hmax: hmaxDecreciente, hmaxIntermedia: hmaxDecrecienteIntermedia,
    mu: muDecreciente, nTiempo: nTiempoDecreciente, n: nDecreciente,
    yRango: [5, 20, 5], y2Rango: [200, 800, 200],
    deco: { titulo: 'Muestra heterogenea decreciente', etiquetaMu: false, etiquetaN: 1157, etiquetaTiempo: true,
            beta: betaLT[3], betaPos: [110.2, 7.2], leyenda: false }
  }
];

paneles.forEach(crearPanel);
</script>
</body>
</html>
